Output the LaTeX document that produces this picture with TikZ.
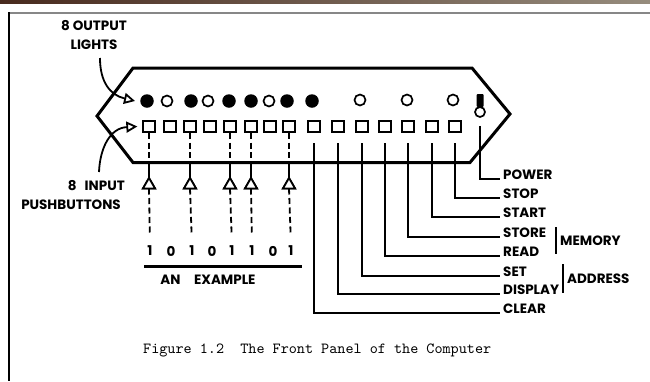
\documentclass[tikz,border=0pt]{standalone}
\usepackage{fontspec}
\newfontfamily\labfont{Poppins}
\usetikzlibrary{arrows.meta,shapes.geometric}
\definecolor{band}{RGB}{72,42,30}
\definecolor{bandr}{RGB}{150,140,125}
\definecolor{frameg}{RGB}{135,135,135}
\begin{document}
\begin{tikzpicture}[x=1pt,y=-1pt,
  lab/.style={font=\labfont\bfseries\fontsize{13.5}{15}\selectfont, inner sep=0pt},
  lighton/.style={circle,fill=black,minimum size=13.5pt,inner sep=0pt},
  lightoff/.style={circle,draw=black,line width=1.7pt,minimum size=11pt,inner sep=0pt},
  btn/.style={rectangle,draw=black,line width=1.8pt,minimum size=11.5pt,inner sep=0pt},
  tri/.style={regular polygon,regular polygon sides=3,draw=black,line width=1.8pt,fill=white,minimum size=14pt,inner sep=0pt,outer sep=0pt},
  dsh/.style={line width=1.8pt, dash pattern=on 6pt off 3.5pt},
  lead/.style={line width=1.8pt},
  panel/.style={line width=3pt, line join=miter},
  opentip/.style={-{Triangle[open,length=11pt,width=11pt]}}
]
\useasboundingbox (0,0) rectangle (650,381);
% frame
\shade[left color=band,right color=bandr] (0,0) rectangle (650,3);
\draw[line width=2pt, frameg] (8,13) -- (650,13);
\draw[line width=1.5pt] (9,12) -- (9,381);

% panel outline
\draw[panel] (133,68) -- (472,68) -- (510,114) -- (470,162.5) -- (133,162.5) -- (97,116) -- cycle;

% lights
\node[lighton]  (l1)  at (147,101) {};
\node[lightoff] (l2)  at (167,101) {};
\node[lighton]  (l3)  at (191,101) {};
\node[lightoff] (l4)  at (208,101) {};
\node[lighton]  (l5)  at (229,101) {};
\node[lighton]  (l6)  at (251,101) {};
\node[lightoff] (l7)  at (269,101) {};
\node[lighton]  (l8)  at (287,101) {};
\node[lighton]  (l9)  at (312,101) {};
\node[lightoff] (l10) at (360,100) {};
\node[lightoff] (l11) at (407,100) {};
\node[lightoff] (l12) at (453,100) {};

% pushbuttons
\foreach \i/\x in {1/149,2/170,3/190,4/210,5/230,6/251,7/270,8/289,
                   9/314,10/338,11/362,12/385,13/408,14/432,15/455}
  \node[btn] (b\i) at (\x,126.5) {};

% power switch
\fill[rounded corners=1pt] (476.5,94) rectangle (483.5,107);
\node[circle,draw=black,line width=1.7pt,minimum size=10pt,inner sep=0pt,fill=white] (sw) at (480,112) {};

% input triangles and digits
\foreach \i/\b in {t1/b1,t2/b3,t3/b5,t4/b6,t5/b8}{
  \node[tri] (\i) at ([yshift=-58.5pt]\b.center) {};
}
\foreach \i/\x/\d in {d1/150/1,d2/171/0,d3/192/1,d4/212/0,d5/232/1,d6/252/1,d7/273/0,d8/291/1}
  \node[lab] (\i) at (\x,251) {\d};

\foreach \b/\t/\d in {b1/t1/d1,b3/t2/d3,b5/t3/d5,b6/t4/d6,b8/t5/d8}{
  \coordinate (e\b) at (\b.south |- 0,162.5);
  \draw[dsh] (\b.south) -- (e\b);
  \draw[lead] (e\b) -- (\t.north);
  \draw[dsh, shorten >=13pt] (\t.south) -- (\d.north);
  \node[tri] at (\t) {};
}

\draw[line width=3pt] (144,266) -- (302,266);
\node[lab] (ex) at (208,280) {AN\hspace{1em}EXAMPLE};

% control labels
\node[lab, anchor=base west] (power)   at (503,179) {POWER};
\node[lab, anchor=base west] (stop)    at (503,198) {STOP};
\node[lab, anchor=base west] (start)   at (503,217) {START};
\node[lab, anchor=base west] (store)   at (503,237) {STORE};
\node[lab, anchor=base west] (read)    at (503,256) {READ};
\node[lab, anchor=base west] (set)     at (503,276) {SET};
\node[lab, anchor=base west] (display) at (503,294) {DISPLAY};
\node[lab, anchor=base west] (clear)   at (503,313) {CLEAR};

\draw[lead, shorten <=8pt] (sw.south) |- ([xshift=-3pt]power.base west);
\draw[lead, shorten <=10pt] (b15.south) |- ([xshift=-3pt]stop.base west);
\draw[lead, shorten <=10pt] (b14.south) |- ([xshift=-3pt]start.base west);
\draw[lead, shorten <=10pt] (b13.south) |- ([xshift=-3pt]store.base west);
\draw[lead, shorten <=10pt] (b12.south) |- ([xshift=-3pt]read.base west);
\draw[lead, shorten <=10pt] (b11.south) |- ([xshift=-3pt]set.base west);
\draw[lead, shorten <=10pt] (b10.south) |- ([xshift=-3pt]display.base west);
\draw[lead, shorten <=10pt] (b9.south)  |- ([xshift=-3pt]clear.base west);

\draw[lead] (556,227) -- (556,254);
\node[lab, anchor=west] (memory) at (560,240.5) {MEMORY};
\draw[lead] (563,264) -- (563,293);
\node[lab, anchor=west] (address) at (567,278.5) {ADDRESS};

% left labels and arrows
\node[lab] (outl1) at (94,26) {8 OUTPUT};
\node[lab] (outl2) at (94,45) {LIGHTS};
\node[lab, anchor=east] (inl1) at (125,186) {8\hspace{0.6em}INPUT};
\node[lab, anchor=east] (inl2) at (121,205) {PUSHBUTTONS};

\coordinate (oa) at (100,58);
\coordinate (ia) at (99,172);
\draw[lead, opentip] (oa) .. controls (100,82) and (110,95) .. ([xshift=-5pt]l1.west);
\draw[lead, opentip] (ia) .. controls (100,148) and (110,128) .. ([xshift=-5pt]b1.west);

% caption
\node[anchor=west, inner sep=0pt] (cap) at (143,350)
  {\resizebox{348pt}{!}{\ttfamily Figure 1.2\ \ The Front Panel of the Computer}};
\end{tikzpicture}
\end{document}
